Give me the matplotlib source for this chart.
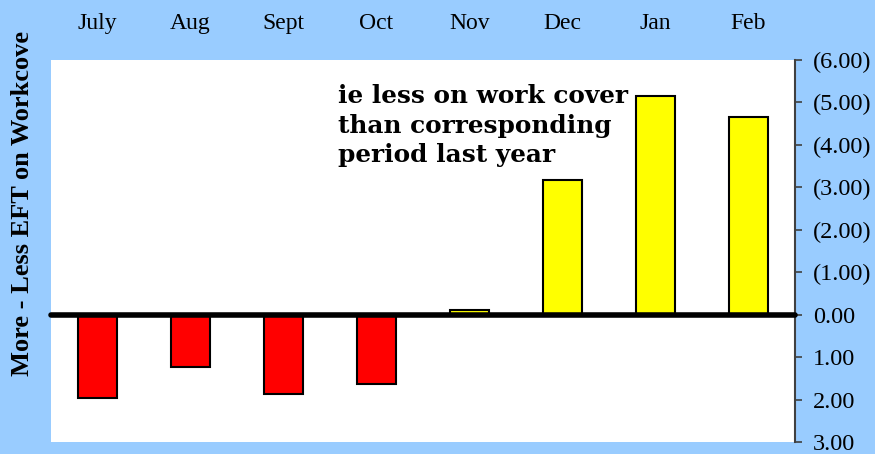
import matplotlib
matplotlib.use("Agg")
import matplotlib.pyplot as plt
import numpy as np

months = ["July", "Aug", "Sept", "Oct", "Nov", "Dec", "Jan", "Feb"]
# positive = less EFT on workcover (drawn upward, shown in brackets)
values = [-1.97, -1.24, -1.88, -1.64, 0.12, 3.17, 5.16, 4.66]
colours = ["#FF0000" if v < 0 else "#FFFF00" for v in values]
ticks = np.arange(-3, 7)

def fmt(v):
    if v > 0:
        return "(%.2f)" % v
    return "%.2f" % abs(v)

fig = plt.figure(figsize=(8.75, 4.54), dpi=100, facecolor="#99CCFF")
ax = fig.add_axes([51/875, 1-442/454, 744/875, 382/454])
ax.set_facecolor("white")

x = np.arange(len(months))
ax.bar(x, values, width=0.41, color=colours, edgecolor="black", linewidth=1.5, zorder=2)
ax.axhline(0, color="black", lw=4, solid_capstyle="round", zorder=3, clip_on=False)

ax.set_xlim(-0.5, 7.5)
ax.set_ylim(-3, 6)
ax.set_xticks(x)
ax.set_xticklabels(months, family="Liberation Serif", fontsize=17)
ax.xaxis.tick_top()
ax.tick_params(axis="x", length=0, pad=19)

ax.yaxis.tick_right()
ax.set_yticks(ticks)
ax.set_yticklabels([fmt(t) for t in ticks], family="Liberation Serif", fontsize=17.5)
ax.tick_params(axis="y", length=5, width=1.2, color="#404040", pad=8)

for s in ["left", "top", "bottom"]:
    ax.spines[s].set_visible(False)
ax.spines["right"].set_color("#404040")
ax.spines["right"].set_linewidth(1.5)

fig.text(23/875, 1-204/454, "More - Less EFT on Workcove", rotation=90,
         ha="center", va="center", family="Liberation Serif", fontweight="bold", fontsize=19)

ax.text(338/875, 1-84/454, "ie less on work cover\nthan corresponding\nperiod last year",
        transform=fig.transFigure, ha="left", va="top", family="DejaVu Serif",
        fontweight="bold", fontsize=17.8, linespacing=1.3)

fig.savefig("out.png", dpi=100, facecolor=fig.get_facecolor())
